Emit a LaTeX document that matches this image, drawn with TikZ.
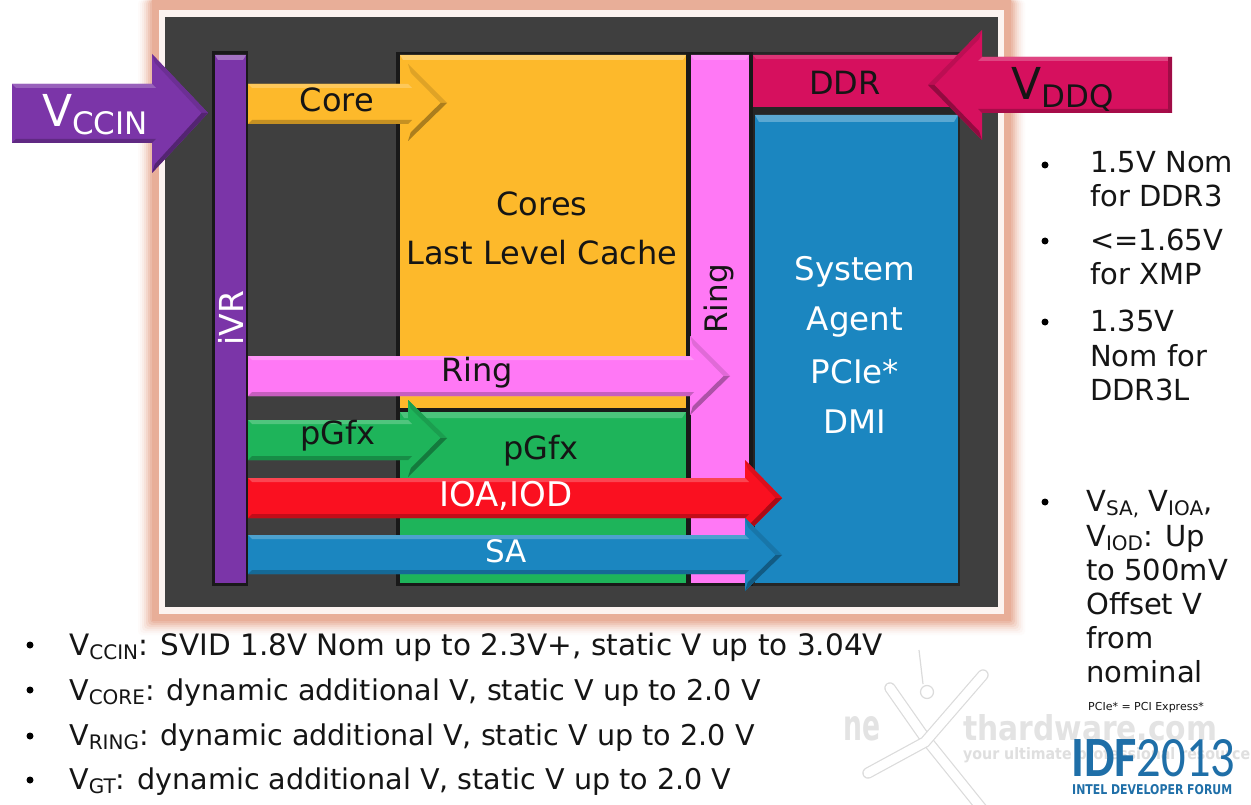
\documentclass[tikz,border=0pt]{standalone}
\usepackage{fontspec}
\usepackage{graphicx}
\setmainfont{DejaVu Sans}
\newfontfamily\idffont{Carlito}
\usetikzlibrary{calc}
\definecolor{dark}{HTML}{3F3F3F}
\definecolor{halo}{HTML}{E8AE98}
\definecolor{pur}{HTML}{7B35A8}
\definecolor{yel}{HTML}{FDB92B}
\definecolor{grn}{HTML}{1EB45A}
\definecolor{pnk}{HTML}{FF78F5}
\definecolor{blu}{HTML}{1B86C0}
\definecolor{crim}{HTML}{D6105E}
\definecolor{rd}{HTML}{FA1020}
\definecolor{idf}{HTML}{1F6FA8}
\definecolor{txt}{HTML}{151515}
\newcommand\Vs[3]{V\raisebox{-#3pt}{\fontsize{#2}{#2}\selectfont #1}}
\def\bv{4}
\def\bvx{4}
% x0, head start, tip, body top, body bottom, head top, head bottom, mid y, colour
\newcommand\barrow[9]{%
  \fill[#9] (#1,#4) -- (#2,#4) -- (#2,#6) -- (#3,#8) -- (#2,#7) -- (#2,#5) -- (#1,#5) -- cycle;
  \fill[#9!78!white] (#1,#4) -- (#2,#4) -- ($(#2,#4)+(\bvx,\bv)$) -- ($(#1,#4)+(\bvx,\bv)$) -- cycle;
  \fill[#9!78!black] (#1,#5) -- (#2,#5) -- ($(#2,#5)+(\bvx,-\bv)$) -- ($(#1,#5)+(\bvx,-\bv)$) -- cycle;
  \fill[#9!88!black] (#2,#6) -- (#3,#8) -- ($(#3,#8)+(-1.6*\bvx,0)$) -- ($(#2,#6)+(0.7*\bvx,2.2*\bv)$) -- cycle;
  \fill[#9!68!black] (#2,#7) -- (#3,#8) -- ($(#3,#8)+(-1.6*\bvx,0)$) -- ($(#2,#7)+(0.7*\bvx,-2.2*\bv)$) -- cycle;
}
\tikzset{
  lbl/.style={inner sep=0pt,text=#1},
  lbl/.default=txt,
  sz/.style={font=\fontsize{#1}{#1}\selectfont},
  left text/.style={inner sep=0pt,anchor=base west,text=txt,font=\fontsize{28.6}{28.6}\selectfont},
  right text/.style={inner sep=0pt,anchor=base west,text=txt,font=\fontsize{29}{29}\selectfont},
  dotmark/.style={circle,fill=black,inner sep=0pt,minimum size=7pt},
  block/.style={inner sep=0pt,draw=none,anchor=north west},
  wmtext/.style={inner sep=0pt,anchor=south west},
  xstroke/.style={draw=gray!28,line width=1.2pt,double=white,double distance=9pt,line cap=round},
}
\begin{document}
\begin{tikzpicture}[x=1pt,y=-1pt]
\useasboundingbox (0,0) rectangle (1251,805);
\fill[white] (0,0) rectangle (1251,805);
% halo
\foreach \i/\m in {14/5,12/12,10/22,8/35,6/50,4/68,2/85}
  \fill[halo!\m!white,rounded corners=4pt] (152-\i,0) rectangle (1011+\i,621+\i);
\fill[halo] (152,0) rectangle (1011,621);
\node[block,fill=white!85!halo,minimum width=845pt,minimum height=604pt] (frame) at (159,10) {};
\node[block,fill=dark,minimum width=833pt,minimum height=590pt] (die) at (165,17) {};
% black backings
\fill[black!90] (212,51) rectangle (248,586);
\fill[black!90] (396,52) rectangle (689,586);
\fill[black!90] (688,52) rectangle (753,586);
\fill[black!85] (753,52) rectangle (960,586);
% blocks
\node[block,fill=pur,minimum width=31pt,minimum height=528pt] (ivr) at (215,55) {};
\fill[pur!70!white] (215,55) -- (246,55) -- (243,60) -- (218,60) -- cycle;
\node[block,fill=yel,minimum width=286pt,minimum height=353pt] (cores) at (400,55) {};
\fill[yel!70!white] (400,55) -- (686,55) -- (683,60) -- (403,60) -- cycle;
\node[block,fill=grn,minimum width=286pt,minimum height=171pt] (pgfxb) at (400,412) {};
\fill[grn!80!white] (400,412) -- (686,412) -- (682,418) -- (404,418) -- cycle;
\node[block,fill=pnk,minimum width=58pt,minimum height=528pt] (ringb) at (691,55) {};
\fill[pnk!80!white] (691,55) -- (749,55) -- (746,60) -- (694,60) -- cycle;
\node[block,fill=crim,minimum width=207pt,minimum height=52pt] (ddrb) at (753,55) {};
\fill[crim!85!white] (753,55) -- (960,55) -- (960,59) -- (756,59) -- cycle;
\node[block,fill=blu,minimum width=203pt,minimum height=468pt] (sab) at (755,115) {};
\fill[blu!72!white] (755,115) -- (958,115) -- (954,122) -- (759,122) -- cycle;
% block labels
\node[lbl=white,rotate=90,sz=33] (ivrt) at (231,318) {iVR};
\node[lbl,sz=32] (corest) at (542,204) {Cores};
\node[lbl,sz=32] (llct) at (542,253) {Last Level Cache};
\node[lbl,sz=32] (pgfxt) at (541,451) {pGfx};
\node[lbl,rotate=90,sz=31] (ringt) at (719,299) {Ring};
\node[lbl,sz=32] (ddrt) at (845,83) {DDR};
\node[lbl=white,sz=32.5] (s1) at (855,272) {System};
\node[lbl=white,sz=32.5] (s2) at (855,322) {Agent};
\node[lbl=white,sz=32.5] (s3) at (855,372) {PCIe*};
\node[lbl=white,sz=32.5] (s4) at (855,422) {DMI};
% arrows
\barrow{12}{152}{208}{84}{143}{54}{173}{113}{pur}
\barrow{248}{408}{447}{84}{124}{64}{141}{103}{yel}
\barrow{248}{690}{730}{356}{396}{336}{415}{376}{pnk}
\barrow{248}{408}{447}{420}{460}{400}{477}{438}{grn}
\barrow{248}{745}{782}{478}{518}{460}{535}{498}{rd}
\barrow{248}{745}{782}{535}{574}{518}{591}{555}{blu}
{\def\bvx{-4}
\barrow{1172}{982}{928}{57}{113}{30}{140}{85}{crim}}
\fill[crim!75!black] (1168,57) rectangle (1172,113);
% arrow labels
\node[lbl=white,inner sep=0pt,anchor=base,font=\fontsize{44}{44}\selectfont] (vccin) at (95,127) {\Vs{CCIN}{31}{8}};
\node[lbl,sz=32] (coret) at (337,100) {Core};
\node[lbl,sz=32] (ringat) at (477,373) {Ring};
\node[lbl,sz=32] (pgfxat) at (338,436) {pGfx};
\node[lbl=white,sz=34] (ioat) at (506,496) {IOA,IOD};
\node[lbl=white,sz=31] (sat) at (506,551) {SA};
\node[lbl,inner sep=0pt,anchor=base,font=\fontsize{44}{44}\selectfont] (vddq) at (1063,100) {\Vs{DDQ}{31}{8}};
% right bullets
\foreach \n/\y in {a/165,b/241,c/322,d/502}
  \node[dotmark] (b\n) at (1045,\y) {};
\node[right text] (r1) at (1090,173) {1.5V Nom};
\node[right text] (r2) at (1090,207) {for DDR3};
\node[right text] (r3) at (1090,251) {<=1.65V};
\node[right text] (r4) at (1090,285) {for XMP};
\node[right text] (r5) at (1090,331) {1.35V};
\node[right text] (r6) at (1090,366) {Nom for};
\node[right text] (r7) at (1090,400) {DDR3L};
\node[right text] (r8) at (1086,511) {\Vs{SA,}{20}{4} \Vs{IOA}{20}{4},};
\node[right text] (r9) at (1086,546) {\Vs{IOD}{20}{4}: Up};
\node[right text] (r10) at (1086,580) {to 500mV};
\node[right text] (r11) at (1086,614) {Offset V};
\node[right text] (r12) at (1086,648) {from};
\node[right text] (r13) at (1086,682) {nominal};
% watermark
\draw[xstroke] (890,688) -- (925,738) -- (983,810);
\draw[xstroke] (983,675) -- (925,742) -- (868,773);
\draw[draw=gray!28,line width=1.2pt] (919,650) -- (923,684);
\draw[draw=gray!28,line width=1.2pt] (927,692) circle (6.5);
\node[wmtext,text=gray!22] (wm1) at (843,741) {\resizebox{37pt}{24pt}{\bfseries ne}};
\node[wmtext,text=gray!22] (wm2) at (963,741) {\resizebox{254pt}{26pt}{\bfseries thardware.com}};
\node[wmtext,text=gray!25] (wm3) at (963,763) {\resizebox{287pt}{12pt}{\bfseries your ultimate professional resource}};
% footnote
\node[inner sep=0pt,anchor=base west,text=txt,font=\fontsize{11}{11}\selectfont] (fn) at (1088,710) {PCIe* = PCI Express*};
% IDF
\node[wmtext,text=idf] (idfl) at (1071,777) {\resizebox{164pt}{37pt}{\idffont\textbf{IDF}2013}};
\node[wmtext,text=idf] (idfs) at (1072,795) {\resizebox{160pt}{10pt}{\bfseries INTEL DEVELOPER FORUM}};
% bottom bullets
\foreach \n/\y in {a/645,b/690,c/736,d/780}
  \node[dotmark] (l\n) at (30,\y) {};
\node[left text,font=\fontsize{29.5}{29.5}\selectfont] (l1) at (69,655) {\Vs{CCIN}{20}{4}: SVID 1.8V Nom up to 2.3V+, static V up to 3.04V};
\node[left text] (l2) at (69,700) {\Vs{CORE}{20}{4}: dynamic additional V, static V up to 2.0 V};
\node[left text] (l3) at (69,745) {\Vs{RING}{20}{4}: dynamic additional V, static V up to 2.0 V};
\node[left text] (l4) at (69,789) {\Vs{GT}{20}{4}: dynamic additional V, static V up to 2.0 V};
\end{tikzpicture}
\end{document}
